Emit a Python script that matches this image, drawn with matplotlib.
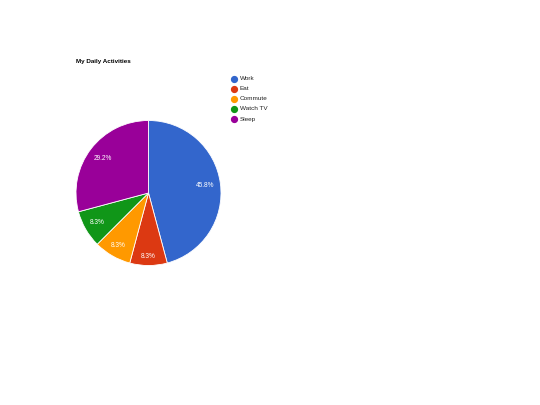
import matplotlib
matplotlib.use("Agg")
import matplotlib.pyplot as plt
import numpy as np
from matplotlib.lines import Line2D

categories = ["Work", "Eat", "Commute", "Watch TV", "Sleep"]
hours = [11, 2, 2, 2, 7]
colors = ["#3366cc", "#dc3912", "#ff9900", "#109618", "#990099"]

W, H = 540, 405
fig = plt.figure(figsize=(W / 100, H / 100), dpi=100)
plt.rcParams['font.family'] = ['Liberation Sans', 'DejaVu Sans']

# pie centre (148.5, 193), radius ~72.5 px
cx, cy, r = 148.5, 193, 72.5
ax = fig.add_axes([(cx - r) / W, (H - cy - r) / H, 2 * r / W, 2 * r / H])
wedges, texts, autotexts = ax.pie(
    hours, colors=colors, startangle=90, counterclock=False,
    autopct='%1.1f%%', pctdistance=0.8,
    wedgeprops=dict(edgecolor='white', linewidth=0.6),
    textprops=dict(color='white', fontsize=4.7))
ax.set_aspect('equal')
ax.set_xlim(-1, 1)
ax.set_ylim(-1, 1)

# google-ish label radii (small slices sit further out)
label_r = [0.79, 0.87, 0.83, 0.81, 0.79]
for w, t, lr in zip(wedges, autotexts, label_r):
    a = np.deg2rad((w.theta1 + w.theta2) / 2)
    t.set_position((lr * np.cos(a), lr * np.sin(a)))

fig.text(76 / W, 1 - 62 / H, "My Daily Activities", fontsize=4.5,
         fontweight='bold', va='center', ha='left')

# legend
for i, (name, col) in enumerate(zip(categories, colors)):
    y = 79 + 10 * i
    fig.add_artist(Line2D([234 / W], [1 - y / H], marker='o', markersize=4.2,
                          color=col, linestyle='none', transform=fig.transFigure))
    fig.text(240 / W, 1 - y / H, name, fontsize=4.6, color='#222222',
             va='center', ha='left')

fig.savefig("out.png", dpi=100)
